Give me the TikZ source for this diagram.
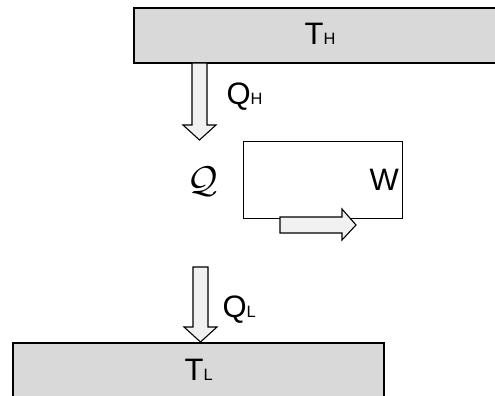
\documentclass[tikz,border=0pt]{standalone}
\usepackage{fontspec}
\setmainfont{Liberation Sans}
\definecolor{resgray}{HTML}{D9D9D9}
\definecolor{flowfill}{HTML}{F1F1F1}
% vertical block arrow: centre x, top y, tip y
\newcommand{\vblockarrow}[3]{%
  \draw[flow] ({#1-7.5},#2) -- ({#1+7.5},#2) -- ({#1+7.5},{#3-15})
    -- ({#1+16.5},{#3-15}) -- (#1,#3) -- ({#1-16.5},{#3-15})
    -- ({#1-7.5},{#3-15}) -- cycle;}
% labels are set at 10pt and scaled up; index letters are about half size
\newcommand{\subidx}[1]{{\fontsize{5.3}{6}\selectfont #1}}
\begin{document}
\begin{tikzpicture}[x=1pt,y=-1pt,
  reservoir/.style={draw, line width=1.6pt, fill=resgray, inner sep=0pt, anchor=north west},
  enginebox/.style={draw, line width=1.4pt, inner sep=0pt, anchor=north west},
  flow/.style={draw, line width=1.1pt, fill=flowfill, line join=miter},
  lbl/.style={font=\fontsize{10}{12}\selectfont, scale=3.1, inner sep=0pt, anchor=base west}]
  \useasboundingbox (0,0) rectangle (495,396);
  \clip (0,0) rectangle (495,396);

  % hot and cold reservoirs
  \node[reservoir, minimum width=400pt, minimum height=55pt] (hot) at (133,7) {};
  \node[reservoir, minimum width=371pt, minimum height=70pt] (cold) at (12,342) {};
  \node[lbl] (th) at (304,44.5) {T\subidx{H}};
  \node[lbl] (tl) at (184,380) {T\subidx{L}};

  % heat flows
  \vblockarrow{199.5}{63}{140}
  \node[lbl] (qh) at (226,104.5) {Q\subidx{H}};
  \vblockarrow{200.5}{267}{342}
  \node[lbl] (ql) at (222,317.5) {Q\subidx{L}};

  % engine
  \node[font=\fontsize{12}{12}\selectfont, inner sep=0pt, scale=3.1] (eng) at (203,181.5) {$\mathcal{Q}$};
  \node[enginebox, minimum width=159pt, minimum height=77pt] (work) at (243,141) {};
  \node[lbl] (w) at (369,190) {W};

  % work output arrow
  \draw[flow] (280,217) -- (342,217) -- (342,209) -- (356,225) -- (342,240)
    -- (342,233) -- (280,233) -- cycle;
\end{tikzpicture}
\end{document}
